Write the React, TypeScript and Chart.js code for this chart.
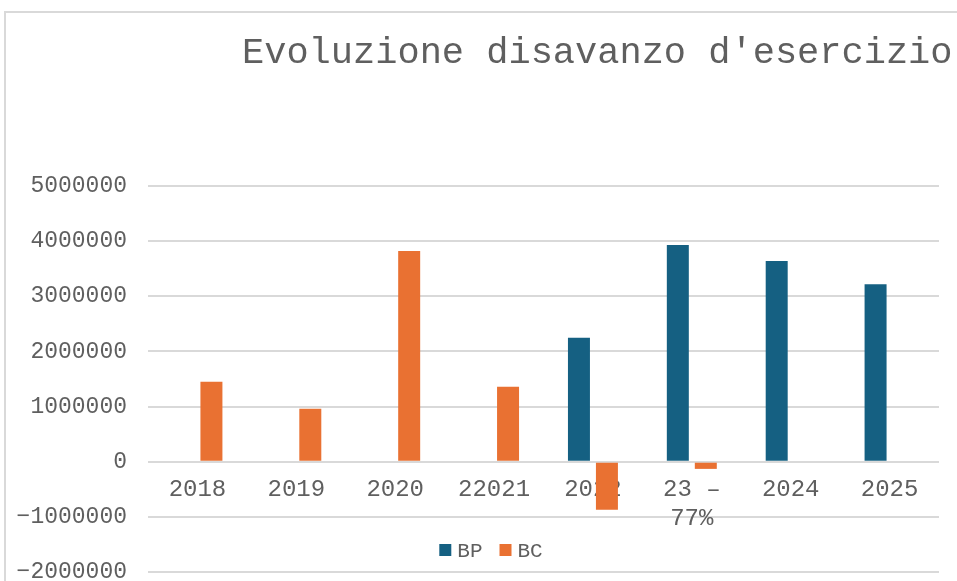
import React, { useEffect, useRef } from "react";
import { Chart, registerables } from "chart.js";

Chart.register(...registerables);

const categories: (string | string[])[] = ["2018", "2019", "2020", "22021", "2022", ["23 –", "77%"], "2024", "2025"];
const bpValues = [null, null, null, null, 2250000, 3930000, 3640000, 3220000];
const bcValues = [1450000, 960000, 3820000, 1360000, -870000, -130000, null, null];
const seriesNames = ["BP", "BC"];
const seriesColors = ["#156082", "#E97132"];
const titleText = "Evoluzione disavanzo d'esercizio";
const yMin = -2000000;
const yMax = 5000000;
const yStep = 1000000;

const FONT = "'Liberation Mono', 'Courier New', monospace";
const TEXT = "#5f5f5f";
const GRID = "#d9d9d9";

const decor = {
  id: "decor",
  beforeDraw(chart: any) {
    const ctx = chart.ctx;
    ctx.save();
    ctx.strokeStyle = GRID;
    ctx.lineWidth = 2;
    ctx.strokeRect(5, 12, 1400, 1400);
    ctx.restore();
  },
  afterDraw(chart: any) {
    const ctx = chart.ctx;
    ctx.save();
    ctx.fillStyle = TEXT;
    ctx.font = `37px ${FONT}`;
    ctx.textBaseline = "alphabetic";
    ctx.textAlign = "left";
    ctx.fillText(titleText, 242, 63);

    // legend
    ctx.font = `21px ${FONT}`;
    const box = 12;
    const gapBoxText = 6;
    const gapItems = 17;
    const widths = seriesNames.map((n) => ctx.measureText(n).width);
    let total = 0;
    widths.forEach((w, i) => {
      total += box + gapBoxText + w + (i < widths.length - 1 ? gapItems : 0);
    });
    let x = 491 - total / 2;
    const yBox = 544;
    seriesNames.forEach((n, i) => {
      ctx.fillStyle = seriesColors[i];
      ctx.fillRect(x, yBox, box, box);
      x += box + gapBoxText;
      ctx.fillStyle = TEXT;
      ctx.fillText(n, x, 557);
      x += widths[i] + gapItems;
    });
    ctx.restore();
  },
};

export default function App() {
  const ref = useRef<HTMLCanvasElement>(null);
  useEffect(() => {
    document.body.style.margin = "0";
    const chart = new Chart(ref.current as HTMLCanvasElement, {
      type: "bar",
      data: {
        labels: categories as any,
        datasets: [
          {
            label: seriesNames[0],
            data: bpValues as any,
            backgroundColor: seriesColors[0],
            categoryPercentage: 0.566,
            barPercentage: 0.786,
          },
          {
            label: seriesNames[1],
            data: bcValues as any,
            backgroundColor: seriesColors[1],
            categoryPercentage: 0.566,
            barPercentage: 0.786,
          },
        ],
      },
      options: {
        animation: false,
        responsive: false,
        maintainAspectRatio: false,
        layout: { padding: { left: 0, top: 186, right: 18, bottom: 9 } },
        plugins: {
          legend: { display: false },
          title: { display: false },
          tooltip: { enabled: false },
        },
        scales: {
          x: {
            position: { y: 0 } as any,
            afterFit: (s: any) => {
              s.height = 0;
              s.paddingTop = 0;
              s.paddingBottom = 0;
              s.paddingLeft = 0;
              s.paddingRight = 0;
            },
            grid: { display: false, drawTicks: false },
            border: { display: false },
            ticks: {
              color: TEXT,
              font: { family: FONT, size: 24 },
              padding: 14,
              maxRotation: 0,
              autoSkip: false,
            },
          },
          y: {
            min: yMin,
            max: yMax,
            afterFit: (s: any) => {
              s.width = 148;
              s.paddingTop = 0;
              s.paddingBottom = 0;
            },
            grid: { color: GRID, lineWidth: 2, drawTicks: false },
            border: { display: false },
            ticks: {
              stepSize: yStep,
              color: TEXT,
              font: { family: FONT, size: 23 },
              padding: 21,
              callback: (v: any) => (Number(v) < 0 ? "\u2212" + String(Math.abs(Number(v))) : String(v)),
            },
          },
        },
      },
      plugins: [decor],
    });
    return () => chart.destroy();
  }, []);
  return <canvas ref={ref} width={957} height={581} style={{ display: "block" }} />;
}
